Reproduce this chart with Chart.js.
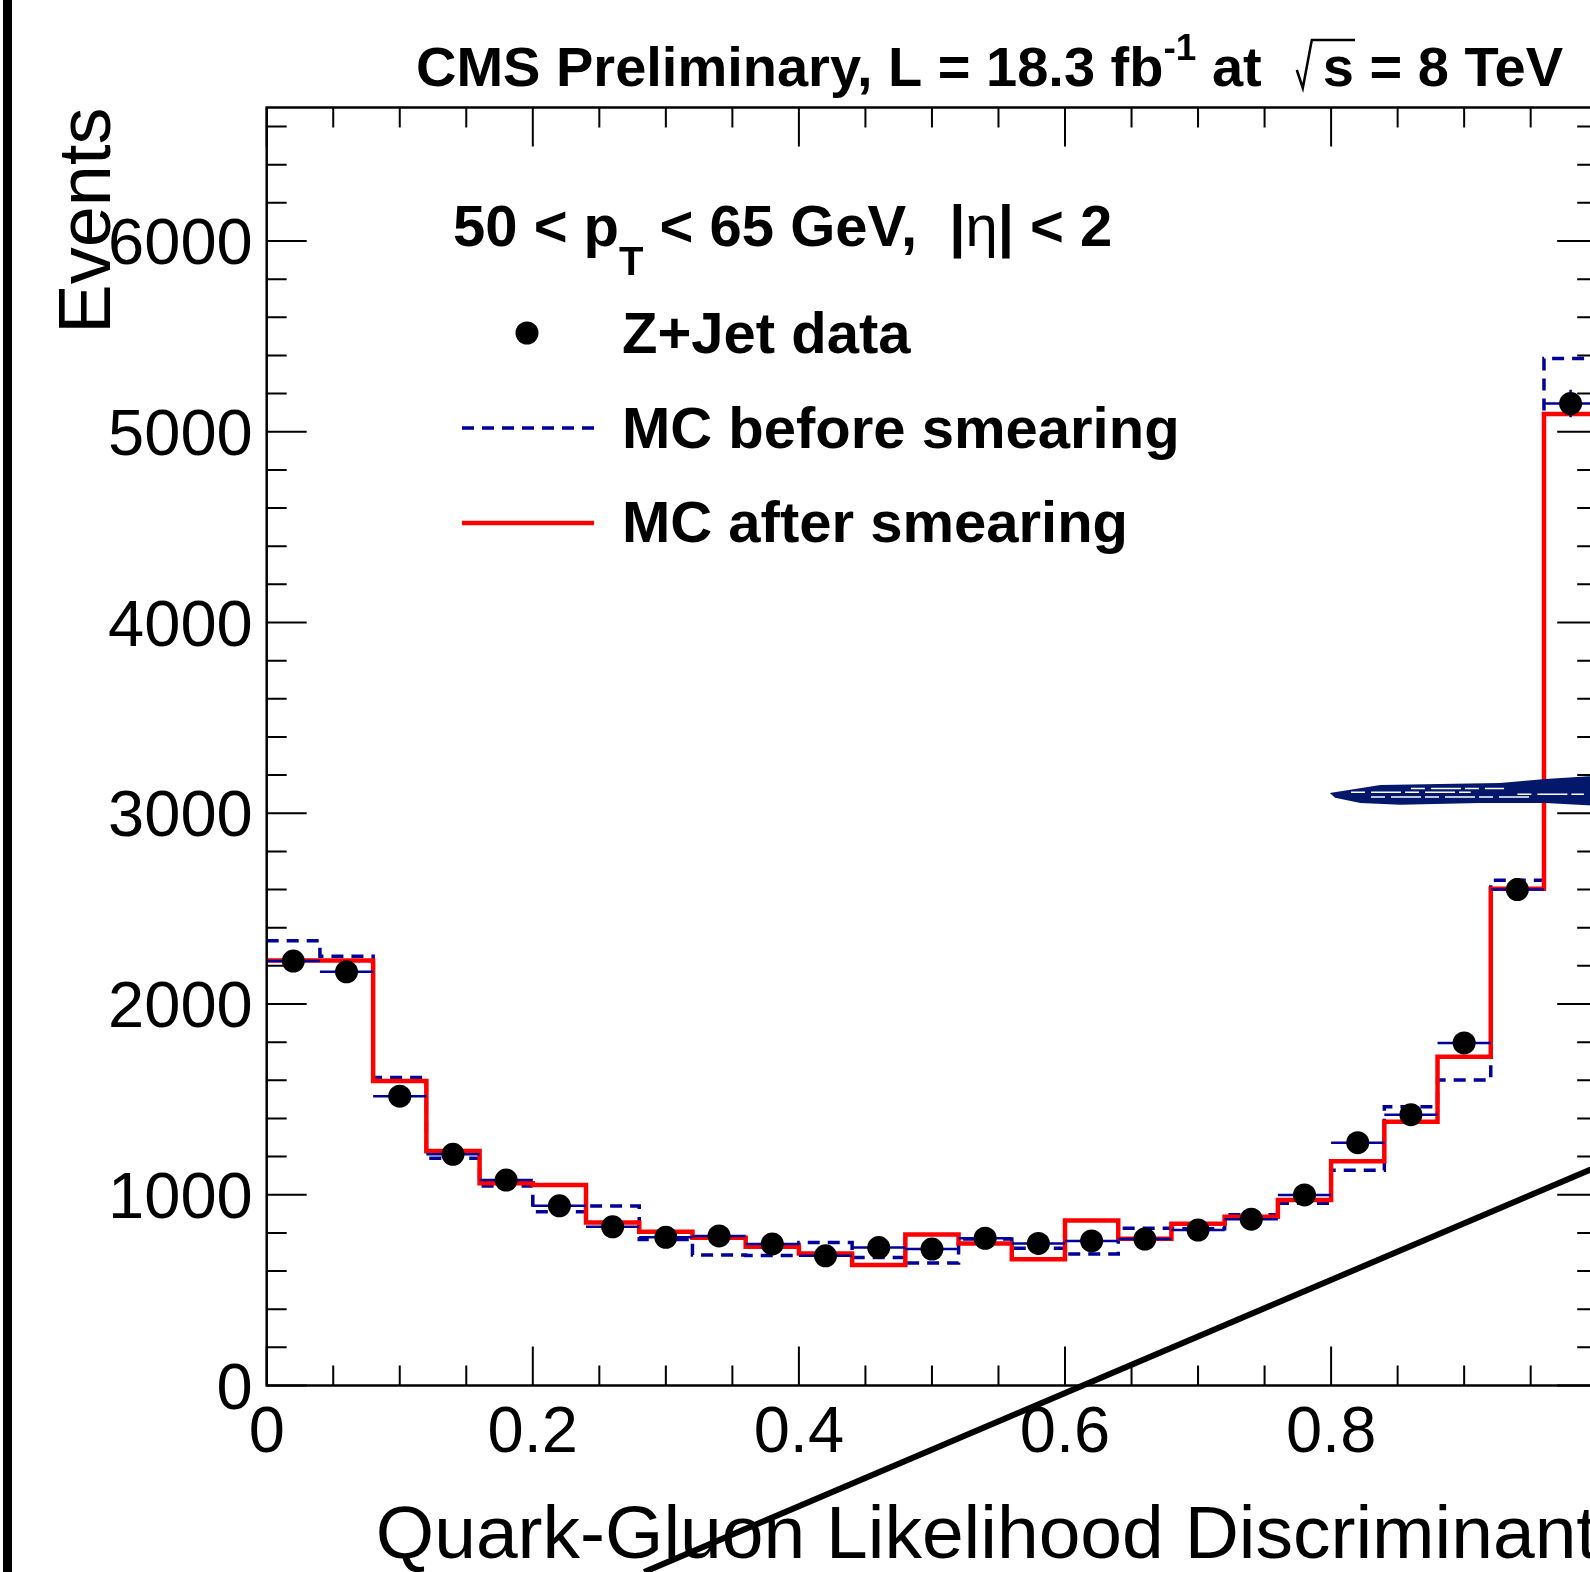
<!DOCTYPE html>
<html>
<head>
<meta charset="utf-8">
<script src="https://cdn.jsdelivr.net/npm/chart.js@4.4.0/dist/chart.umd.min.js"></script>
<style>
  html, body { margin: 0; padding: 0; background: #fff; overflow: hidden; }
  #wrap { width: 1620px; height: 1572px; }
</style>
</head>
<body>
<div id="wrap"><canvas id="qgl"></canvas></div>
<script>
// low edges of the likelihood bins, each 0.04 wide
const binLow = [0.00, 0.04, 0.08, 0.12, 0.16, 0.20, 0.24, 0.28, 0.32, 0.36,
                0.40, 0.44, 0.48, 0.52, 0.56, 0.60, 0.64, 0.68, 0.72, 0.76,
                0.80, 0.84, 0.88, 0.92, 0.96];
const binWidth = 0.04;

const zjetData = [2225, 2169, 1517, 1212, 1077, 942, 832, 777, 784, 742,
                  680, 723, 715, 772, 745, 758, 768, 815, 872, 999,
                  1273, 1420, 1796, 2600, 5148];
const zjetErr  = [47, 47, 39, 35, 33, 31, 29, 28, 28, 27,
                  26, 27, 27, 28, 27, 28, 28, 29, 30, 32,
                  36, 38, 42, 51, 72];
const mcBefore = [2331, 2251, 1615, 1191, 1046, 911, 941, 766, 684, 682,
                  750, 671, 642, 768, 719, 690, 824, 822, 895, 955,
                  1129, 1461, 1601, 2649, 5384];
const mcAfter  = [2228, 2228, 1596, 1229, 1060, 1051, 855, 806, 774, 727,
                  692, 632, 791, 745, 662, 865, 769, 848, 885, 972,
                  1175, 1383, 1723, 2604, 5093];

const xTicks = [0, 0.2, 0.4, 0.6, 0.8];
const xTickLabels = ['0', '0.2', '0.4', '0.6', '0.8'];
const yTicks = [0, 1000, 2000, 3000, 4000, 5000, 6000];
const yTickLabels = ['0', '1000', '2000', '3000', '4000', '5000', '6000'];

const FONT = '"Liberation Sans", Arial, Helvetica, sans-serif';
const NAVY = '#000099';

function stepPoints(vals) {
  const pts = binLow.map((lo, i) => ({x: lo, y: vals[i]}));
  pts.push({x: binLow[binLow.length - 1] + binWidth, y: vals[vals.length - 1]});
  return pts;
}

function textRuns(ctx, x, y, runs) {
  runs.forEach(r => {
    ctx.font = r.font;
    ctx.fillText(r.t, x, y + (r.dy || 0));
    x += ctx.measureText(r.t).width;
  });
  return x;
}

// marks drawn on top of the figure (in data units)
const scribble = [[0.799, 3106], [0.837, 3148], [0.927, 3159], [0.961, 3180], [1.0, 3196],
                  [1.0, 3039], [0.961, 3054], [0.912, 3054], [0.852, 3044], [0.822, 3054], [0.803, 3081]];
const scribbleGaps = [[0.815, 0.905, 3110], [0.83, 0.95, 3085], [0.86, 0.93, 3130], [0.94, 0.99, 3100]];
const slash = [[0.2837, -978], [1.0, 1147]];

const rootStyle = {
  id: 'rootStyle',
  beforeDatasetDraw(chart, args) {
    if (args.index !== 0) return;
    const {ctx, scales: {x, y}} = chart;
    ctx.save();
    ctx.strokeStyle = NAVY;
    ctx.lineWidth = 2.5;
    binLow.forEach((lo, i) => {
      const py = y.getPixelForValue(zjetData[i]);
      const cx = x.getPixelForValue(lo + binWidth / 2);
      ctx.beginPath();
      ctx.moveTo(x.getPixelForValue(lo), py);
      ctx.lineTo(x.getPixelForValue(lo + binWidth), py);
      ctx.moveTo(cx, y.getPixelForValue(zjetData[i] - zjetErr[i]));
      ctx.lineTo(cx, y.getPixelForValue(zjetData[i] + zjetErr[i]));
      ctx.stroke();
    });
    ctx.restore();
  },
  afterDraw(chart) {
    const {ctx, chartArea: a, scales: {x, y}} = chart;
    ctx.save();
    ctx.fillStyle = '#000';
    ctx.strokeStyle = '#000';

    // page edge bar
    ctx.fillRect(3, 0, 9, chart.height);

    // frame
    ctx.lineWidth = 2.5;
    ctx.strokeRect(a.left, a.top, a.right - a.left, a.bottom - a.top);

    // ticks, all four sides, pointing inwards
    ctx.lineWidth = 2;
    ctx.beginPath();
    for (let k = 0; k <= 20; k++) {
      const px = x.getPixelForValue(k * 0.05);
      const len = k % 4 === 0 ? 39 : 20;
      ctx.moveTo(px, a.bottom); ctx.lineTo(px, a.bottom - len);
      ctx.moveTo(px, a.top); ctx.lineTo(px, a.top + len);
    }
    for (let v = 0; v <= 6600; v += 200) {
      const py = y.getPixelForValue(v);
      const len = v % 1000 === 0 ? 40 : 20;
      ctx.moveTo(a.left, py); ctx.lineTo(a.left + len, py);
      ctx.moveTo(a.right, py); ctx.lineTo(a.right - len, py);
    }
    ctx.stroke();

    // tick labels
    ctx.font = '65px ' + FONT;
    ctx.textBaseline = 'alphabetic';
    ctx.textAlign = 'right';
    yTicks.forEach((v, i) => ctx.fillText(yTickLabels[i], a.left - 14, y.getPixelForValue(v) + 23));
    ctx.textAlign = 'center';
    xTicks.forEach((v, i) => ctx.fillText(xTickLabels[i], x.getPixelForValue(v), a.bottom + 66));

    // axis titles
    ctx.font = '75px ' + FONT;
    ctx.textAlign = 'right';
    ctx.fillText('Quark-Gluon Likelihood Discriminant', a.right, 1558);
    ctx.save();
    ctx.translate(110, a.top);
    ctx.rotate(-Math.PI / 2);
    ctx.font = '74px ' + FONT;
    ctx.fillText('Events', 0, 0);
    ctx.restore();

    // top title
    ctx.textAlign = 'left';
    const B = 'bold 56px ' + FONT;
    let tx = textRuns(ctx, 416, 86, [
      {t: 'CMS Preliminary, L = 18.3 fb', font: B},
      {t: '-1', font: 'bold 37px ' + FONT, dy: -26},
      {t: ' at  ', font: B}
    ]);
    const sx = tx + 30;
    ctx.font = B;
    const sw = ctx.measureText('s').width;
    ctx.lineWidth = 2.5;
    ctx.beginPath();
    ctx.moveTo(sx - 26, 70); ctx.lineTo(sx - 20, 88); ctx.lineTo(sx - 11, 40); ctx.lineTo(sx + sw + 1, 40);
    ctx.stroke();
    textRuns(ctx, sx, 86, [{t: 's = 8 TeV', font: B}]);

    // legend
    const L = 'bold 58px ' + FONT;
    textRuns(ctx, 453, 246, [
      {t: '50 < p', font: L},
      {t: 'T', font: 'bold 40px ' + FONT, dy: 29},
      {t: ' < 65 GeV,  |', font: L},
      {t: 'η', font: '58px ' + FONT},
      {t: '| < 2', font: L}
    ]);
    ctx.font = L;
    ctx.fillText('Z+Jet data', 622, 353);
    ctx.fillText('MC before smearing', 622, 447.5);
    ctx.fillText('MC after smearing', 622, 542);
    ctx.beginPath();
    ctx.arc(527, 333, 11.5, 0, Math.PI * 2);
    ctx.fill();
    ctx.lineWidth = 3.5;
    ctx.strokeStyle = NAVY;
    ctx.setLineDash([12, 8]);
    ctx.beginPath(); ctx.moveTo(462, 428); ctx.lineTo(594, 428); ctx.stroke();
    ctx.setLineDash([]);
    ctx.lineWidth = 4.5;
    ctx.strokeStyle = '#ff0000';
    ctx.beginPath(); ctx.moveTo(462, 523); ctx.lineTo(594, 523); ctx.stroke();

    // stray marks
    ctx.fillStyle = '#03176b';
    ctx.beginPath();
    scribble.forEach(([vx, vy], i) => {
      const px = x.getPixelForValue(vx), py = y.getPixelForValue(vy);
      if (i === 0) ctx.moveTo(px, py); else ctx.lineTo(px, py);
    });
    ctx.closePath();
    ctx.fill();
    ctx.strokeStyle = '#ffffff';
    ctx.lineWidth = 1.5;
    ctx.setLineDash([14, 6, 30, 4]);
    ctx.beginPath();
    scribbleGaps.forEach(([x0, x1, vy]) => {
      ctx.moveTo(x.getPixelForValue(x0), y.getPixelForValue(vy));
      ctx.lineTo(x.getPixelForValue(x1), y.getPixelForValue(vy));
    });
    ctx.stroke();
    ctx.setLineDash([]);
    ctx.strokeStyle = '#000';
    ctx.lineWidth = 6;
    ctx.beginPath();
    ctx.moveTo(x.getPixelForValue(slash[0][0]), y.getPixelForValue(slash[0][1]));
    ctx.lineTo(x.getPixelForValue(slash[1][0]), y.getPixelForValue(slash[1][1]));
    ctx.stroke();
    ctx.restore();
  }
};

const chart = new Chart(document.getElementById('qgl'), {
  type: 'scatter',
  data: {
    datasets: [{
      label: 'Z+Jet data',
      data: binLow.map((lo, i) => ({x: lo + binWidth / 2, y: zjetData[i]})),
      backgroundColor: '#000',
      borderWidth: 0,
      pointRadius: 11.5,
      pointHoverRadius: 11.5
    }, {
      type: 'line',
      label: 'MC after smearing',
      data: stepPoints(mcAfter),
      borderColor: '#ff0000',
      borderWidth: 4.5,
      borderJoinStyle: 'miter',
      stepped: 'before',
      pointRadius: 0,
      fill: false
    }, {
      type: 'line',
      label: 'MC before smearing',
      data: stepPoints(mcBefore),
      borderColor: NAVY,
      borderWidth: 3.5,
      borderDash: [12, 8],
      stepped: 'before',
      pointRadius: 0,
      fill: false
    }]
  },
  options: {
    responsive: true,
    maintainAspectRatio: false,
    devicePixelRatio: 1,
    animation: false,
    events: [],
    layout: {
      padding: {left: 266.7, right: 22.8, top: 107.5, bottom: 186.5}
    },
    scales: {
      x: {type: 'linear', min: 0, max: 1, display: false},
      y: {type: 'linear', min: 0, max: 6700, display: false}
    },
    plugins: {
      legend: {display: false},
      title: {display: false},
      tooltip: {enabled: false}
    }
  },
  plugins: [rootStyle]
});
</script>
</body>
</html>
